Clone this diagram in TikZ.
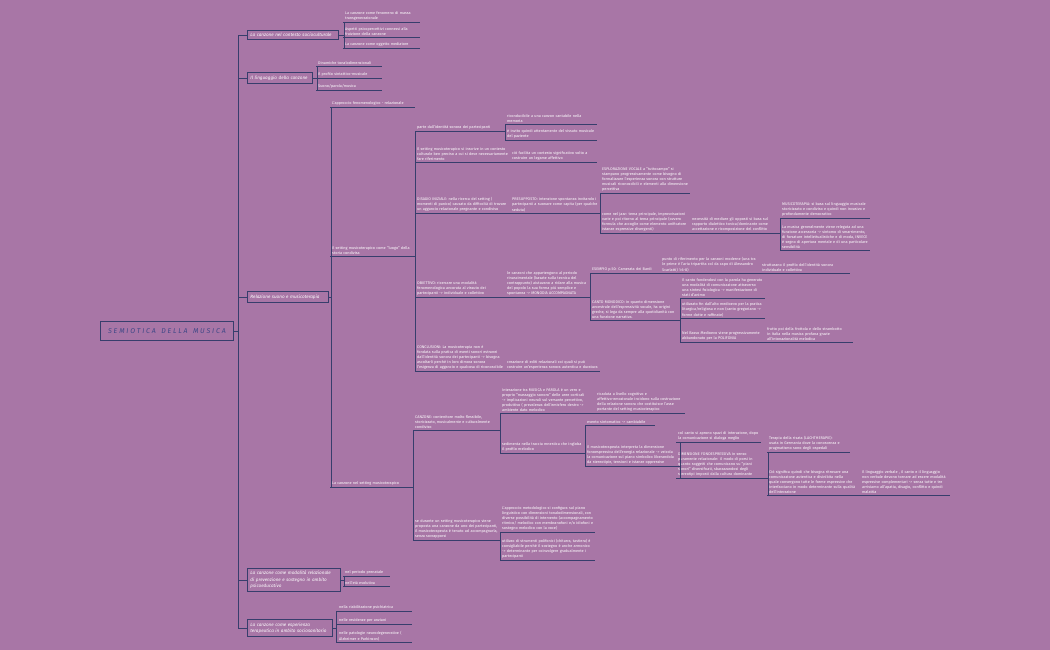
\documentclass[tikz,border=0pt]{standalone}
\usepackage{fontspec}
\setmainfont{Fira Sans}
\hyphenpenalty=10000 \exhyphenpenalty=10000
\definecolor{bg}{RGB}{168,118,166}
\definecolor{ln}{RGB}{55,62,108}
\definecolor{rt}{RGB}{62,72,135}
\tikzset{
 topic/.style={anchor=south west,inner xsep=2pt,inner ysep=1.2pt,text=white,align=left,
   font=\fontsize{3.8}{5.1}\selectfont,
   append after command={\pgfextra{\draw[ln,line width=0.8pt] (\tikzlastnode.south west)--(\tikzlastnode.south east);}}},
 lone/.style={draw=ln,line width=0.9pt,text=white,font=\fontsize{4.6}{6.4}\selectfont\itshape,align=left,inner sep=3pt,anchor=west},
 conn/.style={ln,line width=0.8pt},
}
\newcommand\tpc[5]{\node[topic,text width=#4pt] (#1) at (#2,#3) {#5};}
\begin{document}
\begin{tikzpicture}[x=1pt,y=-1pt]
\fill[bg] (0,0) rectangle (1050,650);
\useasboundingbox (0,0) rectangle (1050,650);
% root
\node[draw=ln,line width=0.9pt,minimum width=133pt,minimum height=19pt,text=rt,font=\fontsize{7}{8}\selectfont\itshape,anchor=west] (root) at (100,331) {S E M I O T I C A\ \ \ D E L L A\ \ \ M U S I C A};
% level 1
\node[lone,text width=85pt] (b1) at (247,35) {La canzone nel contesto socioculturale};
\node[lone,text width=59pt] (b2) at (247,78) {Il linguaggio della canzone};
\node[lone,text width=75pt] (b3) at (247,297) {Relazione suono e musicoterapia};
\node[lone,text width=87pt] (b4) at (247,580) {La canzone come modalità relazionale di prevenzione e sostegno in ambito psicoeducativo};
\node[lone,text width=79pt] (b5) at (247,628) {La canzone come esperienza terapeutica in ambito sociosanitario};
\foreach \b in {b1,b2,b3,b4,b5}{\draw[conn] (root.east) -- ++(4,0) |- (\b.west);}
% b1 children
\tpc{a1}{343}{22}{73}{La canzone come fenomeno di massa transgenerazionale}
\tpc{a2}{343}{37}{73}{Aspetti psicopercettivi connessi alla fruizione della canzone}
\tpc{a3}{343}{48}{73}{La canzone come oggetto mediatore}
\foreach \c in {a1,a2,a3}{\draw[conn] (b1.east) -- ++(5,0) |- (\c.south west);}
% b2 children
\tpc{l1}{316}{66}{62}{Dinamiche tonalodimensionali}
\tpc{l2}{316}{78}{62}{Il profilo sintattico-musicale}
\tpc{l3}{316}{90}{62}{Suono/parola/musica}
\foreach \c in {l1,l2,l3}{\draw[conn] (b2.east) -- ++(4,0) |- (\c.south west);}
% b3 children
\tpc{fen}{330}{107}{81}{L'approccio fenomenologico - relazionale}
\tpc{set}{330}{256}{81}{Il setting musicoterapico come ``luogo'' della storia condivisa}
\tpc{cans}{330}{487}{79}{La canzone nel setting musicoterapico}
\foreach \c in {fen,set,cans}{\draw[conn] (b3.east) -- ++(2,0) |- (\c.south west);}
% setting children
\tpc{s1}{415}{131}{86}{parte dall'identità sonora dei partecipanti}
\tpc{s2}{415}{162}{91}{Il setting musicoterapico si inscrive in un contesto culturale ben preciso a cui si deve necessariamente fare riferimento}
\tpc{s3}{415}{213}{91}{DISAGIO INIZIALE: nella ricerca del setting ( momenti di panico) causato da difficoltà di trovare un aggancio relazionale pregnante e condiviso}
\tpc{s4}{415}{297}{86}{OBIETTIVO: ricercare una modalità fenomenologica ancorata al vissuto dei partecipanti -> individuale e collettivo}
\tpc{s5}{415}{371}{86}{CONCLUSIONI: La musicoterapia non è fondata sulla pratica di eventi sonori estranei dall'identità sonora dei partecipanti -> bisogna ascoltarli perchè in loro dimora sonora l'esigenza di aggancio e qualcosa di riconoscibile}
\foreach \c in {s1,s2,s3,s4,s5}{\draw[conn] (set.south east) |- (\c.south west);}
\tpc{s11}{505}{124}{88}{riconducibile a una canzon cantabile nella memoria}
\tpc{s12}{505}{140}{88}{è invito quindi attentamente del vissuto musicale del paziente}
\foreach \c in {s11,s12}{\draw[conn] (s1.south east) |- (\c.south west);}
\tpc{s21}{510}{162}{83}{ciò facilita un contesto significativo volto a costruire un legame affettivo}
\draw[conn] (s2.south east) -- (s21.south west);
\tpc{s31}{510}{213}{86}{PRESUPPOSTO: intenzione spontanea invitando i partecipanti a suonare come capita (per qualche seduta)}
\draw[conn] (s3.south east) -- (s31.south west);
\tpc{s311}{600}{193}{86}{ESPLORAZIONE VOCALE a ``tuttocampo'' si stampano progressivamente come bisogno di formalizzare l'esperienza sonora con strutture musicali riconoscibili e elementi alla dimensione percettiva}
\tpc{s312}{600}{233}{86}{come nel jazz: tema principale, improvvisazioni varie e poi ritorno al tema principale (ovvero formula che accoglie come elemento unificatore istanze espressive divergenti)}
\foreach \c in {s311,s312}{\draw[conn] (s31.south east) |- (\c.south west);}
\tpc{s313}{690}{233}{86}{necessità di mediare gli opposti si basa sul rapporto dialettico tonica/dominante come accettazione e ricomposizione del conflitto}
\draw[conn] (s312.south east) -- (s313.south west);
\tpc{s3131}{780}{218}{86}{MUSICOTERAPIA: si basa sul linguaggio musicale storicizzato e condiviso e quindi non invasivo e profondamente democratico}
\tpc{s3132}{780}{250}{86}{La musica generalmente viene relegata ad una funzione accessoria -> sintomo di smarrimento, di forsature intellettualistiche e di moda, INVECE è segno di apertura mentale e di una particolare sensibilità}
\foreach \c in {s3131,s3132}{\draw[conn] (s313.south east) |- (\c.south west);}
\tpc{s41}{505}{297}{81}{le canzoni che appartengono al periodo rinascimentale (basate sulla tecnica del contrappunto) aiutavano a ridare alla musica del popolo la sua forma più semplice e spontanea -> MONODIA ACCOMPAGNATA}
\draw[conn] (s4.south east) -- (s41.south west);
\tpc{s411}{590}{273}{66}{ESEMPIO p.50: Camerata dei Bardi}
\tpc{s412}{590}{320}{86}{CANTO MONODICO: in quanto dimensione ancestrale dell'espressività vocale, ha origini greche, si lega da sempre alla quotidianità con una funzione narrativa.}
\foreach \c in {s411,s412}{\draw[conn] (s41.south east) |- (\c.south west);}
\tpc{s4111}{660}{273}{96}{punto di riferimento per la canzoni moderne (una tra le prime è l'aria tripartita col da capo di Alessandro Scarlatti) 1:6-8)}
\draw[conn] (s411.south east) -- (s4111.south west);
\tpc{s4112}{760}{273}{86}{strutturano il profilo dell'identità sonora individuale e collettiva}
\draw[conn] (s4111.south east) -- (s4112.south west);
\tpc{s4121}{680}{298}{81}{Il canto fondendosi con la parola ha generato una modalità di comunicazione attraverso una sintesi fisiologica -> manifestazione di stati d'animo}
\tpc{s4122}{680}{318}{81}{utilizzato fin dall'alto medioevo per la pratica liturgica/religiosa e non (canto gregoriano -> forme dotte e raffinate)}
\tpc{s4123}{680}{342}{81}{Nel Basso Medioevo viene progressivamente abbandonato per la POLIFONIA}
\foreach \c in {s4121,s4122,s4123}{\draw[conn] (s412.south east) |- (\c.south west);}
\tpc{s4124}{765}{342}{84}{frutto poi della frottola e dello strambotto in Italia nella musica profana grazie all'intonazionalità melodica}
\draw[conn] (s4123.south east) -- (s4124.south west);
\tpc{s51}{505}{371}{91}{creazione di editi relazionali coi quali si può costruire un'esperienza sonora autentica e duratura}
\draw[conn] (s5.south east) -- (s51.south west);
% canzone nel setting children
\tpc{c1}{413}{430}{83}{CANZONE: contenitore molto flessibile, storicizzato, musicalmente e culturalmente condiviso}
\tpc{c2}{413}{540}{83}{se durante un setting musicoterapico viene proposta una canzone da uno dei partecipanti, il musicoterapeuta è tenuto ad accompagnarla, senza sovrapporsi}
\foreach \c in {c1,c2}{\draw[conn] (cans.south east) |- (\c.south west);}
\tpc{c11}{500}{413}{91}{Interazione tra MUSICA e PAROLA è un vero e proprio ``massaggio sonoro'' delle aree corticali -> implicazioni neurali sul versante percettivo, produttivo ( prevalenza dell'emisfero destro -> ambiente dato melodico}
\tpc{c12}{500}{453}{81}{sedimenta nella traccia mnestica che ingloba il profilo melodico}
\foreach \c in {c11,c12}{\draw[conn] (c1.south east) |- (\c.south west);}
\tpc{c111}{595}{413}{86}{ricaduta a livello cognitivo e affettivo-emozionale incidono sulla costruzione della relazione sonora che costituisce l'asse portante del setting musicoterapico}
\draw[conn] (c11.south east) -- (c111.south west);
\tpc{c121}{585}{425}{66}{evento sintomatico -> cambiabile}
\tpc{c122}{585}{466}{87}{Il musicoterapeuta interpreta la dimensione fonoespressiva dell'energia relazionale -> veicola la comunicazione sul piano simbolico liberandola da stereotipie, tensioni e istanze oppressive}
\foreach \c in {c121,c122}{\draw[conn] (c12.south east) |- (\c.south west);}
\tpc{c1221}{676}{442}{81}{col canto si aprono spazi di interazione, dopo la comunicazione si dialoga meglio}
\tpc{c1222}{676}{478}{86}{DIMENSIONE FONOESPRESSIVA in senso puramente relazionale: il modo di porsi in quanto soggetti che comunicano su ``piani sonori'' diversificati, sbarazzandosi degli stereotipi imposti dalla cultura dominante}
\foreach \c in {c1221,c1222}{\draw[conn] (c122.south east) -- ++(4,0) |- (\c.south west);}
\tpc{d1}{767}{452}{79}{Terapia della risata (LACHTHERAPIE): usata in Germania dove la conoscenza e pragmatismo sono degli ospedali}
\tpc{d2}{767}{495}{89}{Ciò significa quindi che bisogna ritrovare una comunicazione autentica e disinibita nella quale convergono tutte le forme espressive che interfacciano in modo determinante sulla qualità dell'interazione}
\foreach \c in {d1,d2}{\draw[conn] (c1222.south east) -- ++(2,0) |- (\c.south west);}
\tpc{d21}{860}{495}{86}{Il linguaggio verbale , il canto e il linguaggio non verbale devono tornare ad essere modalità espressive complementari -> senza tutte e tre arriviamo all'apatia, disagio, conflitto e quindi malattia}
\draw[conn] (d2.south east) -- (d21.south west);
\tpc{c21}{500}{532}{91}{L'approccio metodologico si configura sul piano linguistico con dimensioni tonalodimensionali, con diverse possibilità di intervento (accompagnamento ritmico/ melodico con membranofoni e/o idiofoni e sostegno melodico con la voce)}
\tpc{c22}{500}{560}{91}{utilizzo di strumenti polifonici (chitarra, tastiera) è consigliabile perchè il sostegno è anche armonico -> determinante per coinvolgere gradualmente i partecipanti}
\foreach \c in {c21,c22}{\draw[conn] (c2.south east) |- (\c.south west);}
% b4 children
\tpc{p1}{343}{576}{43}{nel periodo prenatale}
\tpc{p2}{343}{586}{43}{nell'età evolutiva}
\foreach \c in {p1,p2}{\draw[conn] (b4.east) -- ++(3,0) |- (\c.south west);}
% b5 children
\tpc{q1}{337}{611}{71}{nella riabilitazione psichiatrica}
\tpc{q2}{337}{624}{71}{nelle residenze per anziani}
\tpc{q3}{337}{642}{71}{nelle patologie neurodegenerative ( Alzheimer e Parkinson)}
\foreach \c in {q1,q2,q3}{\draw[conn] (b5.east) -- ++(3,0) |- (\c.south west);}
\end{tikzpicture}
\end{document}
